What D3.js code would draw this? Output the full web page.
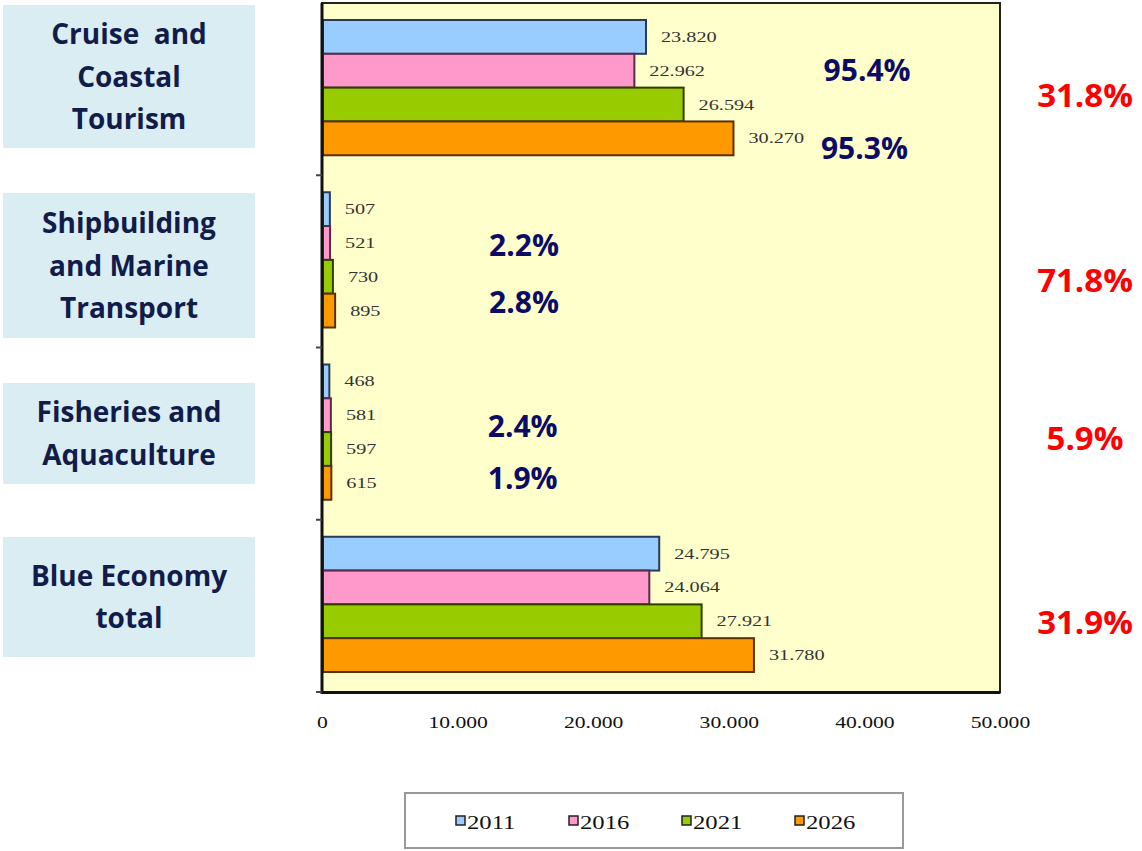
<!DOCTYPE html>
<html>
<head>
<meta charset="utf-8">
<script src="https://cdn.jsdelivr.net/npm/d3@7"></script>
<style>
  body { margin: 0; background: #fff; }
  svg { display: block; }
</style>
</head>
<body>
<div id="chart"></div>
<script>
// categories (top to bottom) and their label lines
const categories = ['Cruise and Coastal Tourism', 'Shipbuilding and Marine Transport', 'Fisheries and Aquaculture', 'Blue Economy total'];
const categoryLines = [['Cruise  and', 'Coastal', 'Tourism'], ['Shipbuilding', 'and Marine', 'Transport'], ['Fisheries and', 'Aquaculture'], ['Blue Economy', 'total']];

// series (years)
const years = ['2011', '2016', '2021', '2026'];
const values2011 = [23820, 507, 468, 24795];
const values2016 = [22962, 521, 581, 24064];
const values2021 = [26594, 730, 597, 27921];
const values2026 = [30270, 895, 615, 31780];

// axis ticks
const xTicks = [0, 10000, 20000, 30000, 40000, 50000];

// share annotations (navy) and growth annotations (red)
const shareCategory = [0, 0, 1, 1, 2, 2];
const shareYear = ['2016', '2026', '2016', '2026', '2016', '2026'];
const shareText = ['95.4%', '95.3%', '2.2%', '2.8%', '2.4%', '1.9%'];
const growthText = ['31.8%', '71.8%', '5.9%', '31.9%'];

const seriesValues = [values2011, values2016, values2021, values2026];
const data = categories.map((c, i) => ({
    category: c,
    values: years.map((y, j) => ({ year: y, value: seriesValues[j][i] }))
}));

const W = 1142, H = 851;
const plot = { left: 322, right: 1000, top: 3, bottom: 692 };
const fills = { '2011': '#99ccff', '2016': '#ff99cc', '2021': '#99cc00', '2026': '#ff9900' };
const strokes = { '2011': '#2b3a55', '2016': '#5a2a48', '2021': '#2f3d00', '2026': '#5a3000' };

const locale = d3.formatLocale({ decimal: ',', thousands: '.', grouping: [3], currency: ['', ''] });
const fmt = locale.format(',d');

const svg = d3.select('#chart').append('svg')
    .attr('width', W)
    .attr('height', H);

const x = d3.scaleLinear().domain([0, 50000]).range([plot.left, plot.right]);
const y0 = d3.scaleBand().domain(categories).range([plot.top, plot.bottom]).padding(0);
const y1 = d3.scaleBand().domain(years).range([17, y0.bandwidth() - 20]).padding(0);

// plot background
svg.append('rect')
    .attr('x', plot.left).attr('y', plot.top)
    .attr('width', plot.right - plot.left).attr('height', plot.bottom - plot.top)
    .attr('fill', '#ffffcc')
    .attr('stroke', '#222')
    .attr('stroke-width', 2);

// bars
const groups = svg.append('g').selectAll('g')
    .data(data)
    .join('g')
    .attr('transform', d => `translate(0,${y0(d.category)})`);

groups.selectAll('rect')
    .data(d => d.values)
    .join('rect')
    .attr('x', x(0) + 1)
    .attr('y', d => y1(d.year))
    .attr('width', d => x(d.value) - x(0))
    .attr('height', y1.bandwidth())
    .attr('fill', d => fills[d.year])
    .attr('stroke', d => strokes[d.year])
    .attr('stroke-width', 2);

// value labels (serif, stretched like the source picture)
groups.selectAll('text.val')
    .data(d => d.values)
    .join('text')
    .attr('class', 'val')
    .attr('transform', d => `translate(${x(d.value) + 16},${y1(d.year) + y1.bandwidth() / 2 + 5}) scale(1.35,1)`)
    .style('font-family', '"Liberation Serif", "DejaVu Serif", serif')
    .style('font-size', '15px')
    .style('fill', '#333')
    .text(d => fmt(d.value));

// left axis with ticks at band boundaries
const leftAxis = svg.append('g');
leftAxis.append('line')
    .attr('x1', plot.left).attr('x2', plot.left)
    .attr('y1', plot.top).attr('y2', plot.bottom + 2)
    .attr('stroke', '#111').attr('stroke-width', 3);
leftAxis.selectAll('line.tk')
    .data(categories)
    .join('line')
    .attr('class', 'tk')
    .attr('x1', plot.left - 6).attr('x2', plot.left)
    .attr('y1', d => y0(d) + y0.bandwidth())
    .attr('y2', d => y0(d) + y0.bandwidth())
    .attr('stroke', '#444').attr('stroke-width', 2);

// bottom axis
const xAxis = svg.append('g')
    .attr('transform', `translate(0,${plot.bottom})`)
    .call(d3.axisBottom(x).tickValues(xTicks).tickSize(0).tickFormat(fmt));
xAxis.select('.domain').attr('stroke', '#111').attr('stroke-width', 3);
xAxis.selectAll('.tick text')
    .attr('y', 0).attr('dy', 0)
    .attr('transform', 'translate(0,36) scale(1.35,1)')
    .attr('text-anchor', 'middle')
    .style('font-family', '"Liberation Serif", "DejaVu Serif", serif')
    .style('font-size', '16px')
    .style('fill', '#111');

// category label boxes
const boxTop = [5, 193, 383, 537];
const boxHeight = [143, 145, 101, 120];
const cat = svg.append('g');
categories.forEach((c, i) => {
    cat.append('rect')
        .attr('x', 3).attr('y', boxTop[i])
        .attr('width', 252).attr('height', boxHeight[i])
        .attr('fill', '#daedf3');
    const lines = categoryLines[i];
    const cy = boxTop[i] + boxHeight[i] / 2;
    lines.forEach((t, k) => {
        cat.append('text')
            .attr('x', 129)
            .attr('y', cy + (k - (lines.length - 1) / 2) * 42.5 + 10)
            .attr('text-anchor', 'middle')
            .style('font-family', '"Open Sans", "Noto Sans", sans-serif')
            .style('font-weight', 700)
            .style('font-size', '28px')
            .style('fill', '#111c4a')
            .style('white-space', 'pre')
            .text(t);
    });
});

// navy share annotations
const shareX = [40200, 40000, 14900, 14900, 14800, 14800];
const shareDy = [0, 11, 3, -8, 12, -4];
svg.append('g').selectAll('text')
    .data(shareText)
    .join('text')
    .attr('x', (d, i) => x(shareX[i]))
    .attr('y', (d, i) => y0(categories[shareCategory[i]]) + y1(shareYear[i]) + y1.bandwidth() / 2 + 10 + shareDy[i])
    .attr('text-anchor', 'middle')
    .style('font-family', '"Open Sans", "Noto Sans", sans-serif')
    .style('font-weight', 700)
    .style('font-size', '30px')
    .style('fill', '#0c0c66')
    .text(d => d);

// red growth annotations
const growthDy = [6, 19, 4, 16];
svg.append('g').selectAll('text')
    .data(growthText)
    .join('text')
    .attr('x', 1085)
    .attr('y', (d, i) => y0(categories[i]) + y0.bandwidth() / 2 + 12 + growthDy[i])
    .attr('text-anchor', 'middle')
    .style('font-family', '"Open Sans", "Noto Sans", sans-serif')
    .style('font-weight', 700)
    .style('font-size', '33px')
    .style('fill', '#ff0000')
    .text(d => d);

// legend
const legend = svg.append('g');
legend.append('rect')
    .attr('x', 405).attr('y', 793)
    .attr('width', 498).attr('height', 55)
    .attr('fill', '#fff')
    .attr('stroke', '#999')
    .attr('stroke-width', 2);
const legX = d3.scalePoint().domain(years).range([456, 795]);
const items = legend.selectAll('g.item')
    .data(years)
    .join('g')
    .attr('class', 'item')
    .attr('transform', d => `translate(${legX(d)},822)`);
items.append('rect')
    .attr('x', 0).attr('y', -6)
    .attr('width', 9).attr('height', 9)
    .attr('fill', d => fills[d])
    .attr('stroke', '#222')
    .attr('stroke-width', 1.5);
items.append('text')
    .attr('transform', 'translate(11,7) scale(1.3,1)')
    .style('font-family', '"Liberation Serif", "DejaVu Serif", serif')
    .style('font-size', '19px')
    .style('fill', '#111')
    .text(d => d);
</script>
</body>
</html>
